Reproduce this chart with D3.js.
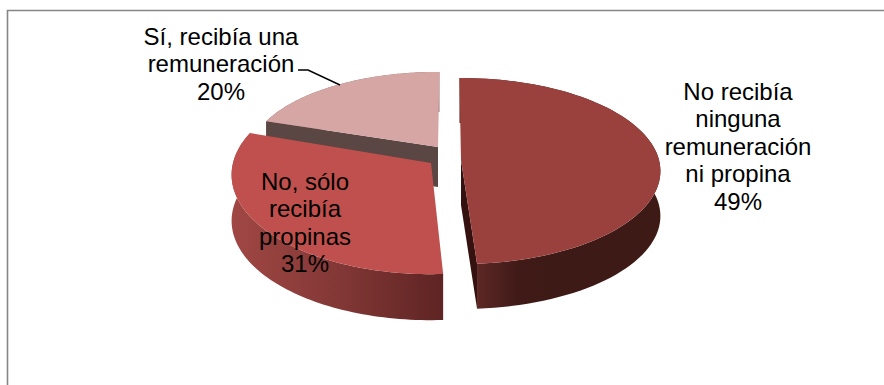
<!DOCTYPE html>
<html><head><meta charset="utf-8">
<script src="https://cdn.jsdelivr.net/npm/d3@7"></script>
<style>html,body{margin:0;padding:0;background:#fff}svg{display:block}
text{font-family:"Liberation Sans",Arial,sans-serif;font-size:24px;fill:#000;text-anchor:middle}</style>
</head><body><svg id="c" width="884" height="385"></svg>
<script>
const categories = ["No recibía ninguna remuneración ni propina", "No, sólo recibía propinas", "Sí, recibía una remuneración"];
const values = [49, 31, 20];
const labelLines = [["No recibía","ninguna","remuneración","ni propina"],["No, sólo","recibía","propinas"],["Sí, recibía una","remuneración"]];
const topColors = ["#9a413e","#c0504d","#d6a6a5"];
const wallStops = [["#5c2725","#3f1a17","#3e1a17"],["#a04744","#833836","#5e2423"],["#8a6a69","#8a6a69","#8a6a69"]];
const faceColors = ["#35120f","#5e2423","#5a4642"];

// layout of each exploded slice: apex position, radii, depth, visible cut face, small turn, label placement
const layout = [
 {ax:461, ay:160, R:198, Ry:91.7, depth:45, face:"end",   turn:0, lx:738, ly:100},
 {ax:431, ay:163, R:198, Ry:98,   depth:46, face:null,    turn:1, lx:305, ly:190},
 {ax:438, ay:147, R:188, Ry:84,   depth:40, face:"start", turn:1, lx:221, ly:45}
];
const persp = 0.1185, lineStep = 27.4, rotation = -0.5 * Math.PI / 180;

const svg = d3.select("#c");
const defs = svg.append("defs");
svg.append("path").attr("d","M7.5,385V10.5H884").attr("fill","none").attr("stroke","#868686").attr("stroke-width",1.6);

const arcs = d3.pie().sort(null).startAngle(rotation).endAngle(rotation + 2*Math.PI)(values);
const line = d3.line();

function project(L, theta, dz = 0) {
  const t = theta + L.turn * Math.PI / 180;
  const u = Math.sin(t), v = Math.cos(t), s = 1 / (1 + persp * v);
  return [L.ax + L.R * u * s, L.ay - L.Ry * v * s + dz];
}
const order = [2, 1, 0];
order.forEach(i => {
  const a = arcs[i], L = layout[i];
  const thetas = d3.range(0, 81).map(t => a.startAngle + (a.endAngle - a.startAngle) * t / 80);
  const rim = thetas.map(t => project(L, t));
  const rimLow = thetas.map(t => project(L, t, L.depth)).reverse();
  const xs = d3.extent(rim, d => d[0]);

  const grad = defs.append("linearGradient").attr("id","w"+i).attr("gradientUnits","userSpaceOnUse")
    .attr("x1", i === 0 ? 478 : xs[0]).attr("x2", i === 0 ? 560 : xs[1]).attr("y1",0).attr("y2",0);
  wallStops[i].forEach((c, k) => grad.append("stop").attr("offset", k / 2).attr("stop-color", c));

  const g = svg.append("g").attr("class","slice").attr("data-name",categories[i]);
  g.append("path").attr("d", line(rim.concat(rimLow)) + "Z").attr("fill","url(#w"+i+")");
  if (L.face) {
    const t = L.face === "end" ? a.endAngle : a.startAngle;
    const p = project(L, t), q = project(L, t, L.depth);
    g.append("path").attr("d", line([[L.ax,L.ay],p,q,[L.ax,L.ay+L.depth]]) + "Z").attr("fill",faceColors[i]);
  }
  g.append("path").attr("d", line([[L.ax,L.ay]].concat(rim)) + "Z").attr("fill",topColors[i]);
});

// leader line for the upper-left label
const leader = [[298,70],[308,70],[340,85]];
svg.append("path").attr("d", line(leader)).attr("fill","none").attr("stroke","#000").attr("stroke-width",1.4);

const total = d3.sum(values);
labelLines.forEach((lines, i) => {
  const L = layout[i];
  const t = svg.append("text");
  lines.concat([d3.format(".0%")(values[i] / total)]).forEach((s, k) => {
    t.append("tspan").attr("x", L.lx).attr("y", L.ly + k * lineStep).text(s);
  });
});
</script></body></html>
